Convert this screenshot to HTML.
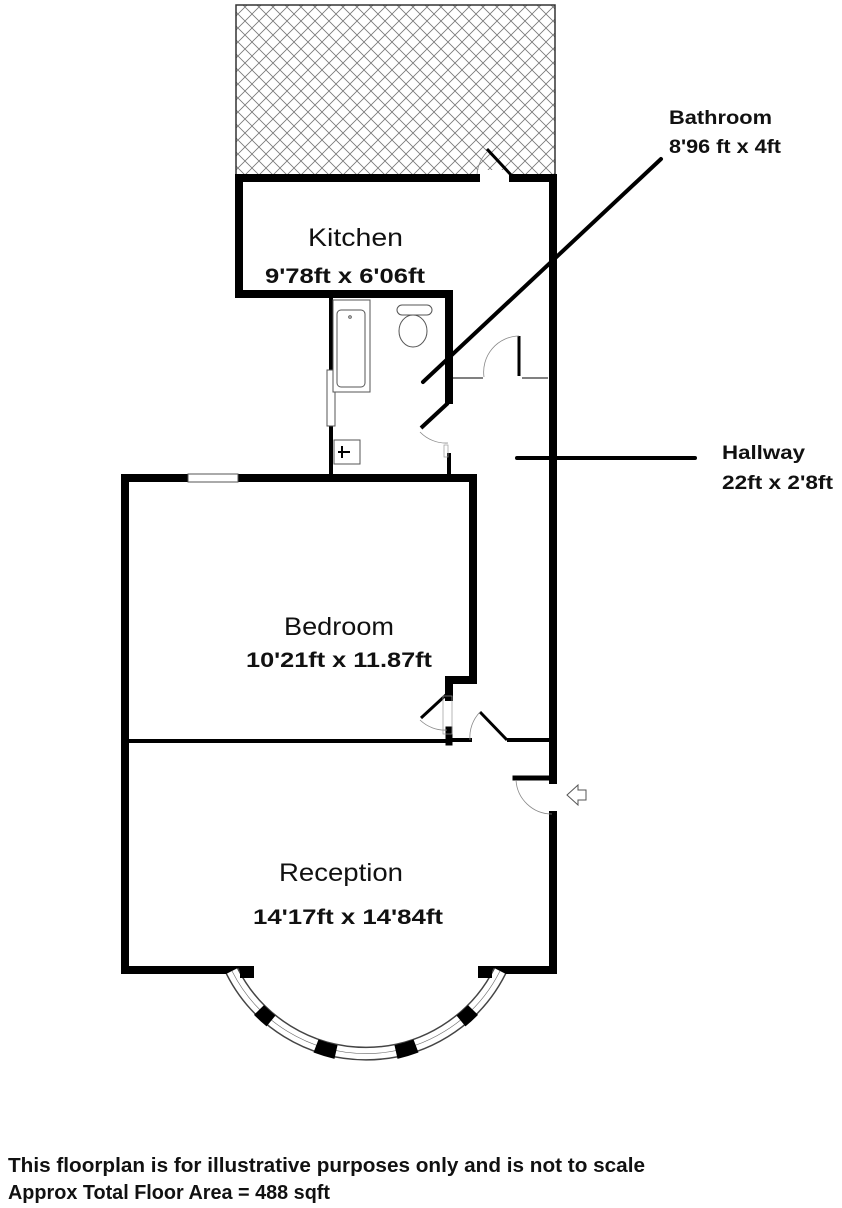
<!DOCTYPE html>
<html><head><meta charset="utf-8">
<style>
html,body{margin:0;padding:0;background:#fff;}
svg{display:block;}
.lbl{font-family:"Liberation Sans",Arial,sans-serif;fill:#111;}
.b{font-family:"Liberation Sans",Arial,sans-serif;font-weight:bold;fill:#111;}
</style></head>
<body>
<svg width="842" height="1208" viewBox="0 0 842 1208" xmlns="http://www.w3.org/2000/svg">
<defs>
<pattern id="h" width="14" height="14" patternUnits="userSpaceOnUse">
<path d="M0 0L14 14M14 0L0 14" stroke="#777" stroke-width="0.8"/>
</pattern>
</defs>
<rect x="236" y="5" width="319" height="172" fill="url(#h)" stroke="#333" stroke-width="1.5"/>
<rect x="476" y="170" width="36" height="12" fill="#fff"/>
<path d="M477 178 A35 35 0 0 1 487 152" fill="none" stroke="#888" stroke-width="0.8"/>
<line x1="487" y1="149" x2="512" y2="176" stroke="#000" stroke-width="3"/>

<g stroke="#000" stroke-linecap="square" fill="none">
<path d="M476 178 H239 V294 H449 V400" stroke-width="8"/>
<path d="M513 178 H553 V780" stroke-width="8"/>
<path d="M449 455 V472" stroke-width="4"/>
<path d="M331 294 V476" stroke-width="4"/>
<path d="M125 478 H473 V680 H449 V697" stroke-width="8"/>
<path d="M125 478 V970 H245" stroke-width="8"/>
<path d="M490 970 H553 V815" stroke-width="8"/>
<path d="M125 741 H450" stroke-width="4"/>
<path d="M449 730 V742" stroke-width="7"/>
<path d="M509 740 H549" stroke-width="4"/>
<path d="M451 740 H470" stroke-width="4"/>
<path d="M515 778 H549" stroke-width="5"/>
</g>
<rect x="327" y="370" width="8" height="56" fill="#fff" stroke="#555" stroke-width="1"/>
<rect x="188" y="474" width="50" height="8" fill="#fff" stroke="#555" stroke-width="1"/>
<rect x="333" y="300" width="37" height="92" fill="#fff" stroke="#555" stroke-width="1"/>
<rect x="337" y="310" width="28" height="77" rx="4" fill="none" stroke="#555" stroke-width="1"/>
<circle cx="350" cy="317" r="1.3" fill="none" stroke="#555"/>
<rect x="397" y="305" width="35" height="10" rx="5" fill="#fff" stroke="#555"/>
<ellipse cx="413" cy="331" rx="14" ry="16" fill="#fff" stroke="#555"/>
<rect x="334" y="440" width="26" height="24" fill="#fff" stroke="#555"/>
<path d="M338 452 H350 M342 446 V458" stroke="#000" stroke-width="2"/>
<line x1="448" y1="403" x2="421" y2="428" stroke="#000" stroke-width="4"/>
<path d="M420 432 A36 36 0 0 0 448 443" fill="none" stroke="#888" stroke-width="0.8"/>
<rect x="444" y="445" width="4" height="12" fill="none" stroke="#999" stroke-width="0.7"/>
<path d="M452 378 H483 M522 378 H548" stroke="#000" stroke-width="1"/>
<line x1="519" y1="336" x2="519" y2="376" stroke="#000" stroke-width="3"/>
<path d="M484 377 A36 36 0 0 1 519 336" fill="none" stroke="#888" stroke-width="0.8"/>
<line x1="447" y1="694" x2="421" y2="718" stroke="#000" stroke-width="3"/>
<path d="M420 720 A36 36 0 0 0 447 730" fill="none" stroke="#888" stroke-width="0.8"/>
<rect x="443" y="696" width="9" height="38" fill="none" stroke="#999" stroke-width="0.7"/>
<line x1="480" y1="712" x2="507" y2="740" stroke="#000" stroke-width="3"/>
<path d="M470 740 A36 36 0 0 1 480 712" fill="none" stroke="#888" stroke-width="0.8"/>
<path d="M516 780 A36 36 0 0 0 552 814" fill="none" stroke="#888" stroke-width="0.8"/>
<path d="M567 795 L578 785 V790 H586 V800 H578 V805 Z" fill="#fff" stroke="#555" stroke-width="1"/>
<!-- bay window -->
<g transform="translate(366,905)">
<path d="M-134 66 A150 150 0 0 0 134 66" fill="none" stroke="#444" stroke-width="14"/>
<path d="M-134 66 A150 150 0 0 0 134 66" fill="none" stroke="#fff" stroke-width="11"/>
<path d="M-134 66 A150 150 0 0 0 134 66" fill="none" stroke="#666" stroke-width="0.6"/>
<g stroke="#000" stroke-width="14" fill="none">
<path d="M-107 105 A150 150 0 0 0 -95 116"/>
<path d="M-50 141 A150 150 0 0 0 -30 147"/>
<path d="M30 147 A150 150 0 0 0 50 141"/>
<path d="M95 116 A150 150 0 0 0 107 105"/>
</g>
</g>
<rect x="240" y="966" width="14" height="12" fill="#000"/>
<rect x="478" y="966" width="14" height="12" fill="#000"/>
<line x1="661" y1="159" x2="423" y2="382" stroke="#000" stroke-width="4" stroke-linecap="round"/>
<line x1="517" y1="458" x2="695" y2="458" stroke="#000" stroke-width="4" stroke-linecap="round"/>
<text class="lbl" x="308" y="246" font-size="25" textLength="95" lengthAdjust="spacingAndGlyphs">Kitchen</text>
<text class="b" x="265" y="283" font-size="21" textLength="160" lengthAdjust="spacingAndGlyphs">9'78ft x 6'06ft</text>
<text class="lbl" x="284" y="635" font-size="25" textLength="110" lengthAdjust="spacingAndGlyphs">Bedroom</text>
<text class="b" x="246" y="667" font-size="21" textLength="186" lengthAdjust="spacingAndGlyphs">10'21ft x 11.87ft</text>
<text class="lbl" x="279" y="881" font-size="25" textLength="124" lengthAdjust="spacingAndGlyphs">Reception</text>
<text class="b" x="253" y="924" font-size="21" textLength="190" lengthAdjust="spacingAndGlyphs">14'17ft x 14'84ft</text>
<text class="b" x="669" y="124" font-size="19" textLength="103" lengthAdjust="spacingAndGlyphs">Bathroom</text>
<text class="b" x="669" y="153" font-size="19" textLength="112" lengthAdjust="spacingAndGlyphs">8'96 ft x 4ft</text>
<text class="b" x="722" y="459" font-size="19" textLength="83" lengthAdjust="spacingAndGlyphs">Hallway</text>
<text class="b" x="722" y="489" font-size="19" textLength="111" lengthAdjust="spacingAndGlyphs">22ft x 2'8ft</text>
<text class="b" x="8" y="1172" font-size="20" textLength="637" lengthAdjust="spacingAndGlyphs">This floorplan is for illustrative purposes only and is not to scale</text>
<text class="b" x="8" y="1199" font-size="20" textLength="322" lengthAdjust="spacingAndGlyphs">Approx Total Floor Area = 488 sqft</text>
</svg>
</body></html>
